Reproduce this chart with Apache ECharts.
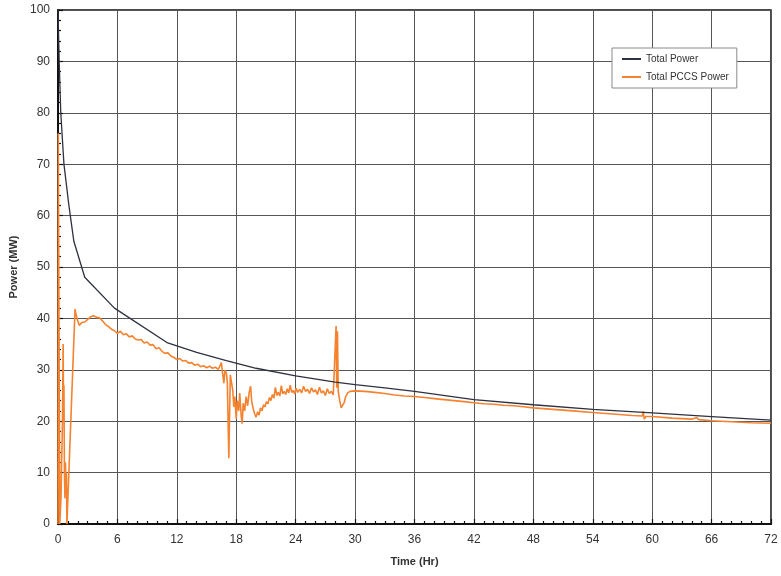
<!DOCTYPE html>
<html>
<head>
<meta charset="utf-8">
<script src="https://cdn.jsdelivr.net/npm/echarts@6/dist/echarts.min.js"></script>
<style>html,body{margin:0;padding:0;background:#fff;}#c{width:781px;height:576px;}</style>
</head>
<body>
<div id="c"></div>
<script>
var xTicks = [0, 6, 12, 18, 24, 30, 36, 42, 48, 54, 60, 66, 72];
var yTicks = [0, 10, 20, 30, 40, 50, 60, 70, 80, 90, 100];
var seriesNames = ['Total Power', 'Total PCCS Power'];

var totalTime  = [0, 0.12, 0.28, 0.6, 1.1, 1.6, 2.7, 5.7, 11, 14, 17, 20, 24, 28, 30, 33, 36, 42, 48, 54, 60, 66, 72];
var totalPower = [100, 90, 80, 70, 62, 55, 48, 42, 35.3, 33.4, 31.8, 30.3, 28.8, 27.6, 27.1, 26.5, 25.8, 24.2, 23.2, 22.3, 21.6, 20.9, 20.2];

var pccsTime = [
  0, 0.03, 0.08, 0.12, 0.18, 0.3, 0.45, 0.52, 0.56, 0.6, 0.65, 0.7, 0.75, 0.8, 0.85, 0.9, 0.95,
  1.72, 1.85, 2.0, 2.15, 2.4, 2.7, 3.0, 3.3, 3.6, 3.9, 4.2, 4.5, 4.8, 5.1, 5.4, 5.7,
  6.0, 6.3, 6.6, 6.9, 7.2, 7.5, 7.8, 8.1, 8.4, 8.7, 9.0, 9.3, 9.6, 9.9, 10.2, 10.5, 10.8, 11.1, 11.4, 11.7,
  12.0, 12.3, 12.6, 12.9, 13.2, 13.5, 13.8, 14.1, 14.4, 14.7, 15.0, 15.3, 15.6, 15.9, 16.2, 16.4,
  16.5, 16.6, 16.75, 16.85, 17.0, 17.1, 17.25, 17.4, 17.5, 17.65, 17.75, 17.85, 18.0, 18.1, 18.25, 18.35,
  18.5, 18.6, 18.7, 18.85, 19.0, 19.15, 19.3, 19.45, 19.55, 19.7, 19.85, 20.0, 20.15, 20.3, 20.45, 20.6,
  20.75, 20.9, 21.05, 21.2, 21.35, 21.5, 21.65, 21.8, 21.95, 22.1, 22.25, 22.4, 22.55, 22.7, 22.85, 23.0,
  23.15, 23.3, 23.45, 23.6, 23.75, 23.9, 24.05, 24.2, 24.4, 24.6, 24.8, 25.0, 25.2, 25.4, 25.6, 25.8,
  26.0, 26.2, 26.4, 26.6, 26.8, 27.0, 27.2, 27.4, 27.6, 27.8, 28.0, 28.08, 28.15, 28.22, 28.3, 28.45,
  28.6, 28.75, 28.9, 29.05, 29.25, 29.5, 30, 31, 32, 33, 34, 35, 36, 37, 38, 39, 40, 41, 42, 43, 44, 45,
  46, 47, 48, 50, 52, 54, 56, 58, 59.0, 59.1, 59.2, 59.35, 60, 62, 64, 64.5, 64.7, 66, 68, 70, 72
];
var pccsPower = [
  0, 76, 50, 30, 0, 5, 20, 35, 20, 27, 10, 5, 12, 8, 10, 0, 0,
  41.8, 40.5, 39.5, 38.6, 39.2, 39.3, 39.8, 40.3, 40.5, 40.2, 40.1, 39.5, 38.8, 38.4, 37.9, 37.6,
  37.1, 37.5, 36.8, 37.0, 36.4, 36.6, 36.0, 35.8, 35.9, 35.2, 35.4, 34.8, 34.9, 34.1, 34.3, 33.6, 33.2, 33.3, 32.7, 32.4,
  32.0, 32.2, 31.7, 31.8, 31.3, 31.4, 30.9, 31.1, 30.6, 30.8, 30.4, 30.7, 30.3, 30.5, 30.1, 30.3,
  31.4, 29.6, 27.4, 29.9, 29.4, 27.5, 12.8, 29.0, 29.2, 26.0, 22.8, 24.8, 20.5, 24.0, 22.0, 25.5,
  21.0, 19.5, 23.5, 22.0, 24.8, 23.0, 25.5, 26.8, 24.0, 22.5, 21.5, 20.8, 21.8, 21.2, 22.6, 22.0,
  23.2, 22.8, 23.8, 23.4, 24.6, 24.0, 25.2, 24.5, 26.6, 25.0, 25.6, 24.9, 26.9, 25.3, 25.8, 25.2,
  26.3, 25.5, 27.0, 25.6, 26.0, 25.3, 26.4, 25.6, 26.2, 25.5, 26.8, 25.8, 26.2, 25.4, 26.5, 25.7,
  26.1, 25.2, 26.6, 25.5, 25.9, 25.0, 26.3, 25.4, 25.8, 25.1, 25.3, 38.5, 26.5, 37.5, 25.8, 24.0,
  22.6, 22.4, 23.6, 24.8, 25.5, 25.8, 25.9, 25.8, 25.6, 25.4, 25.1, 24.9, 24.8, 24.6, 24.4, 24.2, 24.0, 23.8, 23.6, 23.4, 23.3, 23.1,
  23.0, 22.8, 22.6, 22.3, 22.0, 21.7, 21.4, 21.1, 21.0, 21.9, 20.4, 20.9, 20.9, 20.6, 20.4, 20.7, 20.3, 20.1, 19.9, 19.7, 19.6
];

function zip(a, b) { var r = []; for (var i = 0; i < a.length; i++) r.push([a[i], b[i]]); return r; }

var chart = echarts.init(document.getElementById('c'), null, {renderer: 'canvas'});
var font = 'Liberation Sans, Arial, sans-serif';
chart.setOption({
  animation: false,
  backgroundColor: '#ffffff',
  grid: {left: 58, right: 10, top: 10, bottom: 52, show: true, borderColor: '#111', borderWidth: 1.5, backgroundColor: 'transparent'},
  legend: {
    left: 612, top: 48, orient: 'vertical', itemGap: 8,
    padding: [6, 8, 6, 10],
    backgroundColor: '#fff', borderColor: '#8a8a8a', borderWidth: 1, borderRadius: 0,
    icon: 'rect', itemWidth: 19, itemHeight: 2,
    textStyle: {fontFamily: font, fontSize: 10, color: '#333'},
    data: seriesNames
  },
  xAxis: {
    type: 'value', min: xTicks[0], max: xTicks[xTicks.length - 1], interval: 6,
    name: 'Time (Hr)', nameLocation: 'middle', nameGap: 32,
    nameTextStyle: {fontFamily: font, fontSize: 11, fontWeight: 'bold', color: '#333'},
    axisLine: {show: true, lineStyle: {color: '#111', width: 2}},
    axisTick: {show: true, inside: true, length: 5, lineStyle: {color: '#111', width: 1.2}},
    minorTick: {show: true, splitNumber: 6, length: 3, lineStyle: {color: '#111', width: 1.2}},
    axisLabel: {fontFamily: font, fontSize: 12, color: '#333', margin: 10},
    splitLine: {show: true, lineStyle: {color: '#555', width: 1}}
  },
  yAxis: {
    type: 'value', min: yTicks[0], max: yTicks[yTicks.length - 1], interval: 10,
    name: 'Power (MW)', nameLocation: 'middle', nameGap: 38, nameRotate: 90,
    nameTextStyle: {fontFamily: font, fontSize: 11, fontWeight: 'bold', color: '#333'},
    axisLine: {show: true, lineStyle: {color: '#111', width: 2}},
    axisTick: {show: true, inside: true, length: 5, lineStyle: {color: '#111', width: 1.2}},
    minorTick: {show: true, splitNumber: 5, length: 3, lineStyle: {color: '#111', width: 1.2}},
    axisLabel: {fontFamily: font, fontSize: 12, color: '#333', margin: 8},
    splitLine: {show: true, lineStyle: {color: '#555', width: 1}}
  },
  series: [
    {name: seriesNames[0], type: 'line', data: zip(totalTime, totalPower), showSymbol: false, symbol: 'none',
     lineStyle: {color: '#2e3140', width: 1.3}, itemStyle: {color: '#2e3140'}, z: 3},
    {name: seriesNames[1], type: 'line', data: zip(pccsTime, pccsPower), showSymbol: false, symbol: 'none',
     lineStyle: {color: '#f5822e', width: 1.6}, itemStyle: {color: '#f5822e'}, z: 2}
  ]
});
</script>
</body>
</html>
